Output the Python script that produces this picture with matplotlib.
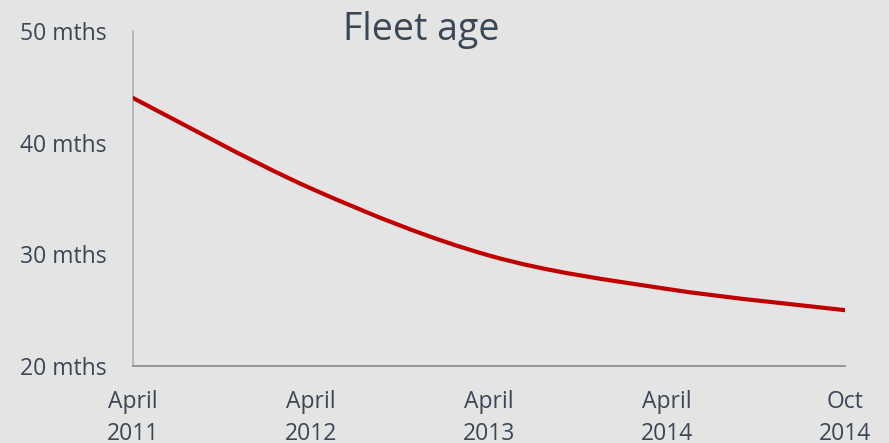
import matplotlib
matplotlib.use("Agg")
import matplotlib.pyplot as plt
from matplotlib.path import Path
from matplotlib.patches import PathPatch

categories = ["April\n2011", "April\n2012", "April\n2013", "April\n2014", "Oct\n2014"]
fleet_age = [44.0, 35.9, 29.9, 26.9, 25.0]
y_ticks = [20, 30, 40, 50]
y_tick_labels = ["20 mths", "30 mths", "40 mths", "50 mths"]
title = "Fleet age"

BG = "#e4e4e4"
TXT = "#3b4754"
RED = "#c00000"

plt.rcParams['font.family'] = ['Open Sans', 'DejaVu Sans']

fig = plt.figure(figsize=(8.89, 4.43), dpi=100, facecolor=BG)
ax = fig.add_axes([133/889, 1-366/443, (845-133)/889, (366-31)/443])
ax.set_facecolor(BG)

xs = list(range(len(categories)))
# smoothed line (Catmull-Rom -> cubic Bezier) through the data points
verts = [(xs[0], fleet_age[0])]
codes = [Path.MOVETO]
n = len(xs)
for i in range(n - 1):
    p0 = (xs[max(i-1, 0)], fleet_age[max(i-1, 0)])
    p1 = (xs[i], fleet_age[i])
    p2 = (xs[i+1], fleet_age[i+1])
    p3 = (xs[min(i+2, n-1)], fleet_age[min(i+2, n-1)])
    c1 = (p1[0] + (p2[0]-p0[0])/6, p1[1] + (p2[1]-p0[1])/6)
    c2 = (p2[0] - (p3[0]-p1[0])/6, p2[1] - (p3[1]-p1[1])/6)
    verts += [c1, c2, p2]
    codes += [Path.CURVE4]*3
patch = PathPatch(Path(verts, codes), facecolor='none', edgecolor=RED, lw=3.0,
                  capstyle='round', joinstyle='round', zorder=3)
ax.add_patch(patch)

ax.set_xlim(0, n-1)
ax.set_ylim(20, 50)
ax.set_xticks(xs)
ax.set_xticklabels(categories, fontsize=16.5, color=TXT, linespacing=1.4)
ax.set_yticks(y_ticks)
ax.set_yticklabels(y_tick_labels, fontsize=16.5, color=TXT)
ax.tick_params(axis='both', length=0)
ax.tick_params(axis='y', pad=19)
ax.tick_params(axis='x', pad=17.5)

for s in ['top', 'right']:
    ax.spines[s].set_visible(False)
ax.spines['left'].set_color('#b0b0b0')
ax.spines['left'].set_linewidth(1.2)
ax.spines['bottom'].set_color('#888888')
ax.spines['bottom'].set_linewidth(1.2)

fig.text(421/889, 1-30/443, title, ha='center', va='center', fontsize=27, color=TXT)

fig.savefig("out.png", dpi=100, facecolor=BG)
